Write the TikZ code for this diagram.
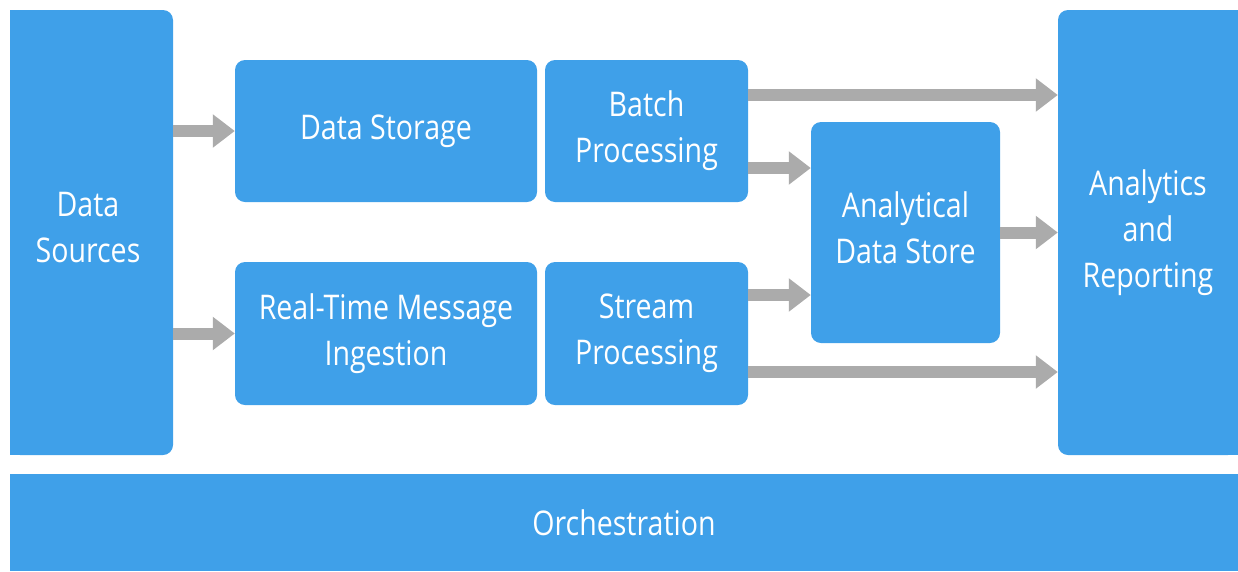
\documentclass[tikz,border=0pt]{standalone}
\usepackage{fontspec}
\setmainfont[FakeStretch=0.84]{Open Sans}
\usetikzlibrary{arrows.meta}
\definecolor{boxblue}{HTML}{3FA0E9}
\definecolor{arrgray}{HTML}{ABABAB}
\tikzset{
  box/.style={fill=boxblue, rounded corners=10pt, text=white, align=center,
    inner sep=0pt, font=\fontsize{34}{46}\selectfont},
  flow/.style={draw=arrgray, line width=12pt,
    -{Triangle[length=22pt, width=32pt]}, shorten >=0pt},
}
\begin{document}
\begin{tikzpicture}[x=1pt, y=-1pt]
\useasboundingbox (0,0) rectangle (1238,571);
% square-side patches
\fill[boxblue] (10,10) rectangle (100,455);
\fill[boxblue] (1140,10) rectangle (1238,455);
% nodes
\node[box, minimum width=163pt, minimum height=445pt] (ds) at (91.5,232.5) {};
\node[text=white, align=center, inner sep=0pt, font=\fontsize{34}{46}\selectfont] (dst) at (88,227.5) {Data\\Sources};
\node[box, minimum width=180pt, minimum height=445pt] (ar) at (1148,232.5) {Analytics\\and\\Reporting};
\node[box, minimum width=302pt, minimum height=142pt] (st) at (386,131) {Data Storage};
\node[box, minimum width=203pt, minimum height=142pt] (bp) at (646.5,131) {Batch\\Processing};
\node[box, minimum width=302pt, minimum height=143pt] (rt) at (386,333.5) {Real-Time Message\\Ingestion};
\node[box, minimum width=203pt, minimum height=143pt] (sp) at (646.5,333.5) {Stream\\Processing};
\node[box, minimum width=189pt, minimum height=221pt] (ad) at (905.5,232.5) {};
\node[text=white, align=center, inner sep=0pt, font=\fontsize{34}{46}\selectfont] (adt) at (905.5,228) {Analytical\\Data Store};
\node[box, rounded corners=0pt, minimum width=1228pt, minimum height=97pt] (or) at (624,522.5) {Orchestration};
% connectors
\coordinate (a1s) at (ds.east |- st.west);
\coordinate (a2s) at (ds.east |- rt.west);
\draw[flow] (a1s) -- (st.west);
\draw[flow] (a2s) -- (rt.west);
\coordinate (b1) at (bp.east |- 0,95);
\coordinate (b2) at (bp.east |- 0,168);
\coordinate (s1) at (sp.east |- 0,295);
\coordinate (s2) at (sp.east |- 0,372);
\draw[flow] (b1) -- (b1 -| ar.west);
\draw[flow] (b2) -- (b2 -| ad.west);
\draw[flow] (s1) -- (s1 -| ad.west);
\draw[flow] (s2) -- (s2 -| ar.west);
\draw[flow] (ad.east) -- (ad.east -| ar.west);
\end{tikzpicture}
\end{document}
